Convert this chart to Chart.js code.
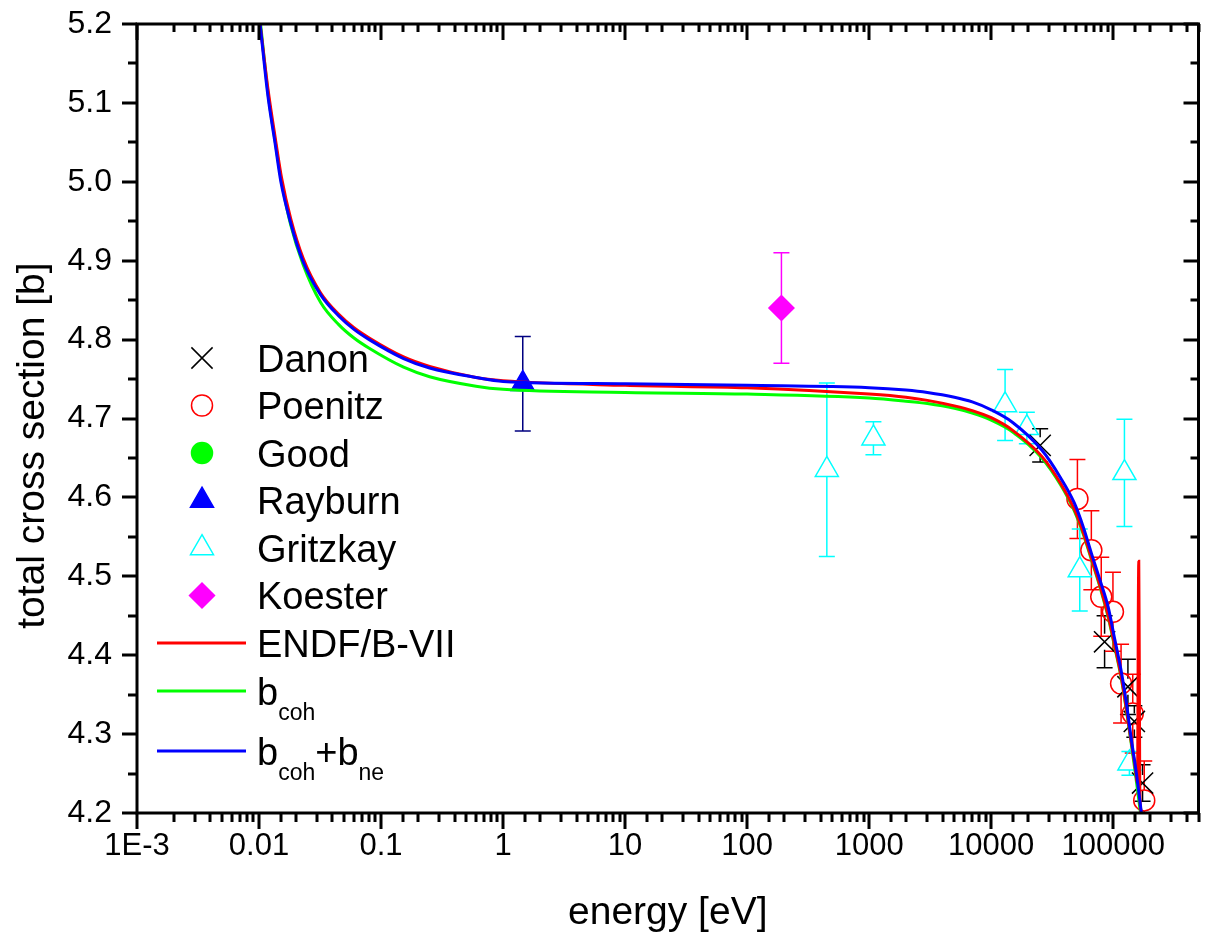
<!DOCTYPE html>
<html>
<head>
<meta charset="utf-8">
<script src="https://cdn.jsdelivr.net/npm/chart.js@4.4.1/dist/chart.umd.min.js"></script>
<style>
  html, body { margin: 0; padding: 0; background: #fff; }
</style>
</head>
<body>
<canvas id="c" width="1215" height="937"></canvas>
<script>
Chart.defaults.font.family = '"Liberation Sans", Arial, Helvetica, sans-serif';
Chart.defaults.color = '#000';

// tick labels
var xTickLabels = ['1E-3', '0.01', '0.1', '1', '10', '100', '1000', '10000', '100000'];
var yTickLabels = ['4.2', '4.3', '4.4', '4.5', '4.6', '4.7', '4.8', '4.9', '5.0', '5.1', '5.2'];

// curves: energy [eV] / total cross section [b]
var cohneE = [0.0102, 0.0118, 0.0135, 0.0151, 0.018, 0.0228, 0.0319, 0.045, 0.06, 0.08, 0.153, 0.25, 0.6, 1, 10, 100, 1000, 2000, 3000, 5000, 7000, 10000, 15000, 26000, 37000, 48000, 57000, 66000, 78000, 91000, 103000, 116000, 128000, 140000, 155000, 169000, 175000];
var cohneS = [5.20, 5.11, 5.05, 5.00, 4.95, 4.90, 4.857, 4.830, 4.813, 4.800, 4.776, 4.764, 4.752, 4.747, 4.744, 4.742, 4.739, 4.736, 4.733, 4.727, 4.721, 4.711, 4.695, 4.660, 4.625, 4.593, 4.562, 4.530, 4.495, 4.461, 4.420, 4.381, 4.340, 4.296, 4.250, 4.204, 4.185];

var endfE = [0.0102, 0.0119, 0.0136, 0.0153, 0.0182, 0.023, 0.032, 0.045, 0.06, 0.08, 0.153, 0.25, 0.6, 1, 10, 100, 1000, 2000, 3000, 5000, 7000, 10000, 15000, 26000, 37000, 48000, 57000, 66000, 78000, 91000, 103000, 116000, 128000, 140000, 150000, 158500, 160500, 162000, 163500, 165000, 168000, 172000];
var endfS = [5.20, 5.115, 5.055, 5.005, 4.953, 4.903, 4.859, 4.832, 4.815, 4.802, 4.778, 4.766, 4.752, 4.748, 4.742, 4.739, 4.731, 4.727, 4.723, 4.716, 4.710, 4.701, 4.685, 4.652, 4.618, 4.585, 4.555, 4.524, 4.488, 4.450, 4.412, 4.374, 4.333, 4.292, 4.262, 4.238, 4.45, 4.519, 4.40, 4.235, 4.205, 4.19];

var cohE = [0.0103, 0.0119, 0.0136, 0.0153, 0.0182, 0.023, 0.032, 0.045, 0.06, 0.08, 0.153, 0.25, 0.6, 1, 10, 100, 1000, 2000, 3000, 5000, 7000, 10000, 15000, 26000, 37000, 48000, 57000, 66000, 78000, 91000, 103000, 116000, 128000, 140000, 152000, 166000, 172000];
var cohS = [5.20, 5.11, 5.05, 5.00, 4.945, 4.895, 4.847, 4.819, 4.802, 4.789, 4.765, 4.753, 4.741, 4.737, 4.733, 4.731, 4.726, 4.722, 4.719, 4.713, 4.707, 4.698, 4.683, 4.650, 4.616, 4.583, 4.553, 4.522, 4.486, 4.448, 4.410, 4.372, 4.331, 4.290, 4.250, 4.204, 4.185];

// measurements
var danonE = [25200, 85000, 132000, 149000, 174000];
var danonS = [4.666, 4.417, 4.360, 4.316, 4.238];
var danonErr = [0.021, 0.033, 0.035, 0.02, 0.023];

var poenitzE = [50900, 66200, 79800, 99500, 116000, 144600, 179600];
var poenitzS = [4.598, 4.533, 4.474, 4.455, 4.364, 4.326, 4.216];
var poenitzErr = [0.05, 0.05, 0.05, 0.05, 0.05, 0.05, 0.05];

var goodE = [];
var goodS = [];

var rayburnE = [1.45];
var rayburnS = [4.744];
var rayburnErr = [0.06];

var gritzkayE = [450, 1084, 13000, 19600, 53200, 123600, 135800];
var gritzkayS = [4.635, 4.675, 4.717, 4.688, 4.508, 4.631, 4.263];
var gritzkayErr = [0.11, 0.021, 0.045, 0.02, 0.052, 0.068, 0.015];

var koesterE = [191];
var koesterS = [4.84];
var koesterErr = [0.07];

function pts(xs, ys) {
  return xs.map(function (x, i) { return { x: x, y: ys[i] }; });
}

function isDecade(v) {
  var l = Math.log10(v);
  return Math.abs(l - Math.round(l)) < 1e-9;
}

function curve(label, xs, ys, color) {
  return {
    type: 'line', label: label, data: pts(xs, ys),
    borderColor: color, borderWidth: 3, pointRadius: 0,
    cubicInterpolationMode: 'monotone', fill: false
  };
}

function marks(label, xs, ys, err, style, r, color, fill, errColor, gapUp, gapDn) {
  return {
    type: 'scatter', label: label, data: pts(xs, ys),
    pointStyle: style, pointRadius: r, pointHoverRadius: r,
    borderColor: color, backgroundColor: fill, pointBorderWidth: 1.5, borderWidth: 1.5,
    err: err, errColor: errColor, gapUp: gapUp, gapDn: gapDn
  };
}

// error bars, drawn through the scales
var errorBars = {
  id: 'errorBars',
  beforeDatasetsDraw: function (chart) {
    var ctx = chart.ctx, xs = chart.scales.x, ys = chart.scales.y, a = chart.chartArea;
    ctx.save();
    ctx.beginPath();
    ctx.rect(a.left, a.top, a.right - a.left, a.bottom - a.top);
    ctx.clip();
    chart.data.datasets.forEach(function (ds) {
      if (!ds.err) return;
      ctx.strokeStyle = ds.errColor;
      ctx.lineWidth = 1.5;
      ds.data.forEach(function (p, i) {
        var px = xs.getPixelForValue(p.x);
        var py = ys.getPixelForValue(p.y);
        var top = ys.getPixelForValue(p.y + ds.err[i]);
        var bot = ys.getPixelForValue(p.y - ds.err[i]);
        ctx.beginPath();
        if (top < py - ds.gapUp) { ctx.moveTo(px, top); ctx.lineTo(px, py - ds.gapUp); }
        if (bot > py + ds.gapDn) { ctx.moveTo(px, py + ds.gapDn); ctx.lineTo(px, bot); }
        ctx.moveTo(px - 8, top); ctx.lineTo(px + 8, top);
        ctx.moveTo(px - 8, bot); ctx.lineTo(px + 8, bot);
        ctx.stroke();
      });
    });
    ctx.restore();
  }
};

// frame and tick marks
var frameTicks = {
  id: 'frameTicks',
  afterDraw: function (chart) {
    var ctx = chart.ctx, a = chart.chartArea;
    var xs = chart.scales.x, ys = chart.scales.y;
    ctx.save();
    ctx.strokeStyle = '#000';
    ctx.lineWidth = 3;
    ctx.beginPath();
    xs.ticks.forEach(function (t) {
      var px = Math.round(xs.getPixelForValue(t.value));
      var major = isDecade(t.value);
      ctx.moveTo(px, a.bottom); ctx.lineTo(px, a.bottom + (major ? 16 : 9));
      ctx.moveTo(px, a.top); ctx.lineTo(px, a.top + (major ? 16 : 8));
    });
    ys.ticks.forEach(function (t) {
      var py = Math.round(ys.getPixelForValue(t.value));
      var major = t.label !== '';
      ctx.moveTo(a.left, py); ctx.lineTo(a.left - (major ? 15 : 9), py);
      ctx.moveTo(a.right, py); ctx.lineTo(a.right - (major ? 15 : 8), py);
    });
    ctx.stroke();
    ctx.strokeRect(a.left, a.top, a.right - a.left, a.bottom - a.top);
    ctx.restore();
  }
};

// legend inside the plot
var legendNames = ['Danon', 'Poenitz', 'Good', 'Rayburn', 'Gritzkay', 'Koester', 'ENDF/B-VII'];

function drawMark(ctx, style, x, y, color, fill) {
  ctx.save();
  ctx.strokeStyle = color;
  ctx.fillStyle = fill;
  ctx.lineWidth = 1.5;
  ctx.beginPath();
  if (style === 'crossRot') {
    ctx.moveTo(x - 10.6, y - 10.6); ctx.lineTo(x + 10.6, y + 10.6);
    ctx.moveTo(x + 10.6, y - 10.6); ctx.lineTo(x - 10.6, y + 10.6);
  } else if (style === 'circle') {
    ctx.arc(x, y, 10.5, 0, Math.PI * 2);
  } else if (style === 'triangle') {
    var r = 13.3;
    ctx.moveTo(x, y - r); ctx.lineTo(x + r * 0.866, y + r / 2); ctx.lineTo(x - r * 0.866, y + r / 2);
    ctx.closePath();
  } else if (style === 'rectRot') {
    var d = 12.5;
    ctx.moveTo(x - d, y); ctx.lineTo(x, y - d); ctx.lineTo(x + d, y); ctx.lineTo(x, y + d);
    ctx.closePath();
  }
  if (fill !== 'transparent') ctx.fill();
  ctx.stroke();
  ctx.restore();
}

var insideLegend = {
  id: 'insideLegend',
  afterDraw: function (chart) {
    var ctx = chart.ctx;
    var big = '38px "Liberation Sans", Arial, sans-serif';
    var small = '23px "Liberation Sans", Arial, sans-serif';
    var markStyles = [
      ['crossRot', '#000', 'transparent'],
      ['circle', '#ff0000', 'transparent'],
      ['circle', '#00ff00', '#00ff00'],
      ['triangle', '#0000ff', '#0000ff'],
      ['triangle', '#00ffff', 'transparent'],
      ['rectRot', '#ff00ff', '#ff00ff']
    ];
    var symX = 202, txtX = 257;
    ctx.save();
    ctx.textBaseline = 'alphabetic';
    ctx.textAlign = 'left';
    for (var i = 0; i < 6; i++) {
      var cy = 358 + i * 47.5;
      drawMark(ctx, markStyles[i][0], symX, cy, markStyles[i][1], markStyles[i][2]);
      ctx.fillStyle = '#000';
      ctx.font = big;
      ctx.fillText(legendNames[i], txtX, cy + 13.5);
    }
    var lines = [['#ff0000', 643], ['#00ff00', 691], ['#0000ff', 751]];
    lines.forEach(function (l) {
      ctx.strokeStyle = l[0];
      ctx.lineWidth = 3;
      ctx.beginPath();
      ctx.moveTo(157, l[1]); ctx.lineTo(246, l[1]);
      ctx.stroke();
    });
    ctx.fillStyle = '#000';
    ctx.font = big;
    ctx.fillText(legendNames[6], txtX, 657);
    // b_coh
    var x = txtX, base = 705;
    ctx.font = big; ctx.fillText('b', x, base); x += ctx.measureText('b').width;
    ctx.font = small; ctx.fillText('coh', x, base + 15);
    // b_coh + b_ne
    x = txtX; base = 765;
    ctx.font = big; ctx.fillText('b', x, base); x += ctx.measureText('b').width;
    ctx.font = small; ctx.fillText('coh', x, base + 15); x += ctx.measureText('coh').width;
    ctx.font = big; ctx.fillText('+b', x, base); x += ctx.measureText('+b').width;
    ctx.font = small; ctx.fillText('ne', x, base + 15);
    ctx.restore();
  }
};

var datasets = [
  curve('bcoh+bne', cohneE, cohneS, '#0000ff'),
  curve('ENDF/B-VII', endfE, endfS, '#ff0000'),
  curve('bcoh', cohE, cohS, '#00ff00'),
  marks('Danon', danonE, danonS, danonErr, 'crossRot', 15, '#000000', 'transparent', '#000000', 8, 8),
  marks('Poenitz', poenitzE, poenitzS, poenitzErr, 'circle', 10.5, '#ff0000', 'transparent', '#ff0000', 10.5, 10.5),
  marks('Good', goodE, goodS, null, 'circle', 10.5, '#00ff00', '#00ff00', '#00ff00', 0, 0),
  marks('Rayburn', rayburnE, rayburnS, rayburnErr, 'triangle', 13.3, '#0000ff', '#0000ff', '#000080', 13.3, 6.7),
  marks('Gritzkay', gritzkayE, gritzkayS, gritzkayErr, 'triangle', 13.3, '#00ffff', 'transparent', '#00ffff', 13.3, 6.7),
  marks('Koester', koesterE, koesterS, koesterErr, 'rectRot', 12.5, '#ff00ff', '#ff00ff', '#ff00ff', 12.5, 12.5)
];

new Chart(document.getElementById('c'), {
  type: 'scatter',
  data: { datasets: datasets },
  options: {
    responsive: false,
    animation: false,
    layout: { padding: { top: 24, right: 6, left: 0, bottom: 0 } },
    plugins: { legend: { display: false }, tooltip: { enabled: false } },
    scales: {
      x: {
        type: 'logarithmic', min: 1e-3, max: 5e5,
        grid: { display: false, drawTicks: false },
        border: { display: false },
        ticks: {
          font: { size: 31 }, padding: 15, maxRotation: 0, autoSkip: false,
          callback: function (v) {
            if (!isDecade(v)) return '';
            return xTickLabels[Math.round(Math.log10(v)) + 3] || '';
          }
        },
        title: { display: true, text: 'energy [eV]', font: { size: 39 }, padding: { top: 0, bottom: 0 } },
        afterFit: function (s) {
          s.height = 124;
          s.paddingLeft = 0; s.paddingRight = 0;
        }
      },
      y: {
        min: 4.2, max: 5.2,
        grid: { display: false, drawTicks: false },
        border: { display: false },
        ticks: {
          stepSize: 0.05, font: { size: 32 }, padding: 25, autoSkip: false,
          callback: function (v) {
            var k = Math.round((v - 4.2) * 10);
            if (Math.abs(v - 4.2 - k * 0.1) > 1e-6) return '';
            return yTickLabels[k] || '';
          }
        },
        title: {
          display: true, text: 'total cross section [b]\u00a0\u00a0\u00a0\u00a0\u00a0',
          font: { size: 39 }, padding: { top: 10, bottom: 0 }
        },
        afterFit: function (s) {
          s.width = 137;
          s.paddingTop = 0; s.paddingBottom = 0;
        }
      }
    }
  },
  plugins: [errorBars, frameTicks, insideLegend]
});
</script>
</body>
</html>
